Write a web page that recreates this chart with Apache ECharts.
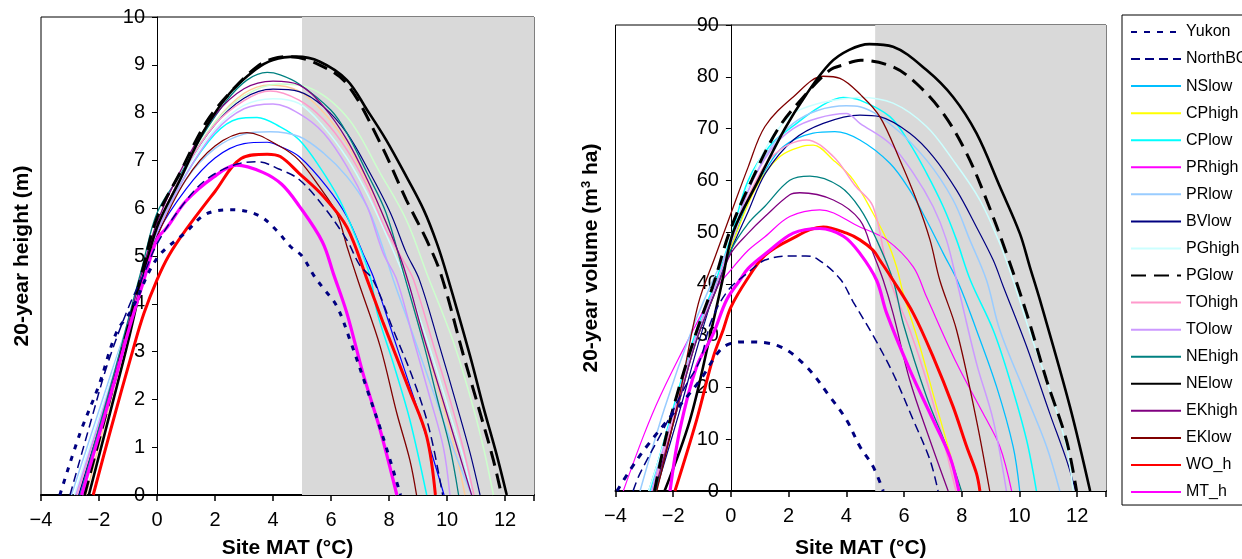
<!DOCTYPE html>
<html>
<head>
<meta charset="utf-8">
<script src="https://cdn.jsdelivr.net/npm/echarts@6/dist/echarts.min.js"></script>
<style>
html,body{margin:0;padding:0;background:#fff;}
#c{width:1242px;height:559px;}
</style>
</head>
<body>
<div id="c"></div>
<script>
// ---------------- DATA ----------------
const seriesNames = ['Yukon','NorthBC','NSlow','CPhigh','CPlow','PRhigh','PRlow','BVlow','PGhigh','PGlow','TOhigh','TOlow','NEhigh','NElow','EKhigh','EKlow','WO_h','MT_h'];
const xTicks = [-4,-2,0,2,4,6,8,10,12];
const heightTicks = [0,1,2,3,4,5,6,7,8,9,10];
const volumeTicks = [0,10,20,30,40,50,60,70,80,90];
const shadeFrom = 5;   // MAT above which the region is shaded
const shadeTo = 13;

// 20-year height (m) vs site MAT (°C)  [MAT, height]
const h_Yukon   = [[-3.35,0],[-2.65,1.3],[-2,2.3],[-1.4,3.4],[-0.9,3.85],[0,4.95],[1,5.5],[1.7,5.88],[2.6,5.97],[3.5,5.85],[4.1,5.55],[4.6,5.2],[5.0,5.0],[5.4,4.6],[5.7,4.35],[6.2,3.95],[6.65,3.25],[7.25,2.2],[7.8,1.2],[8.4,0]];
const h_NorthBC = [[-3.0,0],[-2.3,1.5],[-1.7,2.75],[-1,3.9],[-0.4,4.7],[0,5.25],[0.8,6.0],[1.7,6.6],[2.8,6.93],[3.5,6.97],[4.2,6.82],[4.9,6.6],[5.75,6.03],[6.55,5.33],[7.0,4.8],[7.45,4.5],[8.15,3.45],[8.85,2.4],[9.4,1.35],[9.85,0]];
const h_NSlow   = [[-2.7,0],[-1.5,2.4],[-1,3.4],[-0.5,4.5],[0,5.45],[1,6.4],[2,7.05],[3,7.35],[3.8,7.38],[4.25,7.29],[4.9,7.08],[5.85,6.45],[6.55,5.82],[7.1,5.06],[7.5,4.5],[8.27,3.1],[8.84,2.06],[9.4,1.01],[9.9,0]];
const h_CPhigh  = [[-2.45,0],[-1.5,2.2],[-1,3.4],[-0.5,4.6],[0,5.6],[1,6.85],[2,7.8],[3,8.4],[3.9,8.58],[4.9,8.45],[5.75,8.0],[6.55,7.35],[7.25,6.55],[7.9,5.7],[8.5,4.7],[8.8,4.1],[9.4,2.85],[9.9,1.8],[10.3,0.9],[10.62,0]];
const h_CPlow   = [[-2.65,0],[-1.5,2.4],[-1,3.5],[-0.5,4.5],[0,5.5],[1,6.7],[2,7.55],[2.8,7.87],[3.45,7.9],[4.25,7.7],[4.9,7.43],[5.6,6.87],[6.3,6.17],[6.9,5.33],[7.35,4.57],[7.6,3.8],[8.15,2.75],[8.72,1.57],[9.3,0]];
const h_PRhigh  = [[-2.55,0],[-1.5,2.3],[-1,3.45],[-0.5,4.6],[0,5.6],[1,6.85],[2,7.8],[3,8.35],[4.2,8.6],[5.15,8.54],[6.55,7.91],[7.7,6.73],[8.6,5.75],[9.3,4.64],[10.2,3.24],[10.8,2.06],[11.25,1.01],[11.6,0]];
const h_PRlow   = [[-2.95,0],[-1.5,2.7],[-1,3.6],[-0.5,4.6],[0,5.5],[1,6.6],[2,7.25],[3,7.55],[3.9,7.6],[4.9,7.5],[5.75,7.15],[6.55,6.66],[7.25,6.03],[7.7,5.33],[8.15,4.5],[8.8,3.4],[9.5,2.2],[10.2,1.0],[10.85,0]];
const h_BVlow   = [[-2.7,0],[-1.5,2.45],[-1,3.55],[-0.5,4.65],[0,5.6],[1,6.85],[2,7.75],[3,8.3],[4,8.49],[4.9,8.44],[5.75,8.12],[6.55,7.57],[7.35,6.73],[8.05,5.9],[8.6,5.06],[9.05,4.5],[9.75,3.1],[10.35,1.85],[10.8,0.87],[11.14,0]];
const h_PGhigh  = [[-2.85,0],[-1.5,2.6],[-1,3.6],[-0.5,4.65],[0,5.55],[1,6.8],[2,7.65],[3,8.15],[4,8.29],[4.9,8.19],[5.75,7.7],[6.55,7.05],[7.25,6.3],[7.9,5.45],[8.5,4.6],[9.0,3.8],[9.6,2.7],[10.2,1.5],[10.6,0.7],[10.85,0]];
const h_PGlow   = [[-2.5,0],[-1.5,2.3],[-1,3.5],[-0.5,4.7],[0,5.8],[0.8,6.75],[1.7,7.8],[2.6,8.47],[3.45,8.96],[4.0,9.13],[4.6,9.17],[5.6,9.0],[6.55,8.6],[7.7,7.36],[8.6,6.17],[9.3,5.33],[9.8,4.6],[10.55,2.96],[11.15,1.7],[11.6,0.73],[11.88,0]];
const h_TOhigh  = [[-2.75,0],[-1.5,2.5],[-1,3.6],[-0.5,4.65],[0,5.6],[1,6.85],[2,7.75],[3,8.25],[3.9,8.45],[4.9,8.26],[5.75,7.85],[6.55,7.22],[7.25,6.45],[7.9,5.54],[8.5,4.9],[8.85,4.5],[9.55,3.1],[10.1,2.0],[10.55,1.0],[10.93,0]];
const h_TOlow   = [[-2.8,0],[-1.5,2.5],[-1,3.55],[-0.5,4.6],[0,5.5],[1,6.7],[2,7.6],[3,8.08],[4,8.18],[4.9,7.98],[5.75,7.57],[6.55,6.87],[7.25,6.03],[7.8,5.06],[8.27,4.5],[8.85,3.24],[9.4,2.06],[9.87,1.01],[10.1,0]];
const h_NEhigh  = [[-2.65,0],[-1.5,2.5],[-1,3.65],[-0.5,4.8],[0,5.9],[0.8,6.7],[1.5,7.45],[2.4,8.25],[3.1,8.68],[3.8,8.84],[4.25,8.79],[4.9,8.6],[6.0,8.05],[6.55,7.57],[7.25,6.73],[7.9,5.9],[8.5,4.65],[9.2,3.15],[9.65,2.05],[10.1,1.0],[10.4,0]];
const h_NElow   = [[-2.35,0],[-1.5,2.0],[-1,3.2],[-0.5,4.5],[0,5.6],[0.8,6.6],[1.6,7.6],[2.5,8.4],[3.4,8.9],[4.0,9.1],[4.8,9.17],[5.6,9.07],[6.55,8.68],[7.25,8.05],[7.9,7.43],[8.6,6.66],[9.2,5.96],[9.65,5.27],[10.0,4.6],[10.8,2.9],[11.25,1.85],[11.7,0.87],[12.06,0]];
const h_EKhigh  = [[-2.6,0],[-1.5,2.4],[-1,3.55],[-0.5,4.7],[0,5.7],[1,7.0],[2,7.95],[3,8.5],[4,8.66],[4.9,8.58],[5.75,8.12],[6.55,7.43],[7.25,6.6],[7.9,5.7],[8.5,4.78],[9.2,3.3],[9.8,2.1],[10.4,0.9],[10.85,0]];
const h_EKlow   = [[-2.6,0],[-1.5,2.35],[-1,3.45],[-0.5,4.5],[0,5.4],[1,6.6],[2,7.3],[3.1,7.58],[4.25,7.29],[4.9,7.0],[5.6,6.45],[6.2,5.89],[6.55,5.2],[6.95,4.45],[7.7,3.1],[8.27,1.71],[8.72,0.73],[8.95,0]];
const h_WO_h    = [[-2.2,0],[-1.6,1.36],[-0.8,3.1],[-0.45,3.8],[0,4.5],[0.4,5.0],[1,5.55],[2,6.35],[2.9,7.04],[3.8,7.13],[4.25,7.08],[4.9,6.73],[5.75,6.24],[6.55,5.6],[7.25,4.5],[7.8,3.6],[8.7,2.2],[9.3,1.22],[9.6,0]];
const h_MT_h    = [[-2.6,0],[-1.5,2.3],[-1,3.4],[-0.5,4.4],[0,5.35],[0.35,5.6],[1,6.15],[1.95,6.65],[2.75,6.9],[3.65,6.75],[4.3,6.5],[4.9,6.05],[5.7,5.3],[6.1,4.6],[6.55,3.8],[7.1,2.55],[7.7,1.35],[8.27,0]];

// 20-year volume (m3 ha) vs site MAT (°C)  [MAT, volume]
const v_Yukon   = [[-3.95,0],[-3.5,4],[-2.92,8.6],[-2,15],[-1.07,21.4],[-0.38,27.2],[0,28.5],[0.54,28.8],[1.7,27.9],[2.62,24],[3.43,18.2],[4.01,13.7],[4.47,8.6],[4.93,4.7],[5.28,0]];
const v_NorthBC = [[-3.39,0],[-3.15,3.4],[-2.35,11.8],[-1.6,20],[-1.07,25.3],[-0.67,33],[-0.09,38.8],[0.6,42.2],[1.18,44.6],[2.04,45.4],[2.6,45.4],[3.0,44.8],[3.78,41],[4.24,36.5],[4.93,30],[5.62,22.7],[6.32,13.7],[6.9,6],[7.18,0]];
const v_NSlow   = [[-2.85,0],[-2.0,15],[-1.2,30],[-0.5,40],[0,47],[0.6,56],[1.2,62],[1.81,66.5],[2.85,69.1],[3.6,69.4],[4.47,67.8],[5.51,63.3],[6.2,58.1],[6.78,52.3],[7.36,45.9],[7.9,40],[8.51,31.1],[9.21,20.1],[9.78,8.6],[10.01,0]];
const v_CPhigh  = [[-2.6,0],[-1.9,15],[-1.2,29],[-0.5,39],[0,47],[0.89,58.8],[1.7,64.6],[2.5,66.6],[2.85,66.8],[3.55,63.9],[4.24,60.1],[4.93,53.6],[5.4,48.5],[5.74,43.3],[5.97,38.2],[6.55,27.9],[7.13,16.3],[7.59,7.3],[7.94,0]];
const v_CPlow   = [[-2.8,0],[-2.0,16],[-1.2,31],[-0.5,41],[0,49],[0.6,60],[1.4,67],[2.16,70.5],[3.08,74.2],[3.89,76],[4.47,75.5],[5.51,72.3],[6.2,67.1],[6.78,61.4],[7.36,54.9],[7.82,48.5],[8.3,40.7],[9.09,31.1],[9.67,21.4],[10.25,9.8],[10.59,0]];
const v_PRhigh  = [[-3.73,0],[-3.04,10.5],[-2.46,18.2],[-1.5,29],[-0.55,38.8],[0,42.7],[0.6,46.5],[1.18,49.1],[2.04,53],[3.08,54.3],[4.47,51],[5.4,48.5],[6.32,43.3],[6.78,37.5],[7.82,24.7],[8.74,15],[9.32,8.6],[9.73,0]];
const v_PRlow   = [[-3.15,0],[-2.3,16],[-1.36,31],[-0.6,41],[0,48],[0.6,58],[1.4,66.5],[2.16,71],[3.0,73.5],[4.0,74.4],[4.47,74.2],[5.62,70.4],[6.78,63.9],[7.7,56.2],[8.28,48.5],[8.86,40.7],[9.32,31.1],[10.25,18.2],[10.94,8.6],[11.4,0]];
const v_BVlow   = [[-2.6,0],[-1.8,15],[-1.1,29],[-0.55,38.8],[0,46.5],[0.6,54],[1.2,61.4],[2.16,67.8],[3.2,71],[4.47,72.6],[5.16,72.3],[6.2,69.1],[7.01,64.6],[7.82,58.1],[8.51,51],[9.09,44.6],[9.44,39.5],[10.25,27.9],[11.05,15],[11.63,6],[11.95,0]];
const v_PGhigh  = [[-2.85,0],[-2.0,15],[-1.2,30],[-0.5,40],[0,48],[0.6,59],[1.4,68],[2.16,72.9],[3.0,74.8],[4.0,75.8],[4.47,76],[5.62,74.9],[6.78,70.4],[7.7,63.9],[8.63,56.2],[9.32,47.8],[9.78,40.7],[10.4,30],[10.94,21.4],[11.63,8.6],[11.86,0]];
const v_PGlow   = [[-2.65,0],[-2.11,13.7],[-1.25,29.8],[-0.6,40],[-0.05,50],[0.72,60],[1.64,70],[2.5,76],[3.43,81.3],[3.9,82.3],[4.5,83.2],[5.62,81.9],[6.43,78.7],[7.36,72.9],[8.17,65.2],[8.86,56.2],[9.55,45.9],[10.25,34.3],[10.94,21.4],[11.63,9.8],[11.98,0]];
const v_TOhigh  = [[-2.7,0],[-1.9,16],[-1.2,30],[-0.5,40],[0,48],[0.7,58],[1.5,65],[2.62,67.8],[3.55,64.6],[4.3,59],[4.93,54.9],[5.5,41],[6.2,31.1],[6.78,21.4],[7.36,9.8],[7.8,0]];
const v_TOlow   = [[-2.75,0],[-2.0,15],[-1.2,30],[-0.5,40],[0,48],[0.6,58],[1.4,66],[2.16,70],[3.0,72],[4.0,72.9],[4.47,71],[5.51,67.1],[6.32,61.4],[7.01,54.9],[7.47,48.5],[7.82,40.7],[8.51,24.7],[9.09,13.7],[9.55,0]];
const v_NEhigh  = [[-2.6,0],[-1.9,15],[-1.2,29],[-0.5,39],[0,46.5],[0.6,51.7],[1.18,55],[2.04,60],[2.74,60.8],[3.78,58.8],[4.47,54.6],[5.05,48.5],[5.62,40.7],[5.97,32.4],[6.78,18.2],[7.47,8.6],[7.99,0]];
const v_NElow   = [[-2.3,0],[-1.42,13.7],[-0.73,29.8],[-0.32,40],[0.08,50],[0.95,60],[1.87,70],[2.6,76.5],[3.43,82.6],[4.1,85.2],[4.8,86.3],[5.62,85.8],[6.78,81.3],[7.7,76.1],[8.51,69.1],[9.32,58.8],[10.01,49.8],[10.36,43.3],[10.71,36.9],[11.75,16.3],[12.45,0]];
const v_EKhigh  = [[-2.65,0],[-1.9,15],[-1.2,29],[-0.5,39],[0,45.9],[0.6,49.8],[1.18,53],[2.04,57.2],[2.39,57.6],[3.55,56.2],[4.47,52.3],[4.93,45.9],[5.28,40.7],[5.62,34.3],[6.2,21.4],[6.9,9.8],[7.53,0]];
const v_EKlow   = [[-2.57,0],[-1.8,18],[-1.13,36.2],[-0.55,45.2],[0,53.6],[0.6,62.6],[1.18,70.4],[2.16,76.1],[3.2,80.1],[3.78,79.7],[4.5,76.5],[5.16,72.3],[5.86,63.9],[6.43,56.2],[6.9,48.5],[7.24,40.7],[7.82,31.1],[8.51,13.7],[8.97,0]];
const v_WO_h    = [[-1.94,0],[-1.19,13.7],[-0.61,25.9],[-0.27,31.1],[0,35.5],[0.54,40.7],[1.18,45.5],[2.04,48.5],[3.2,51],[4.01,49.8],[4.47,48.5],[4.93,46.5],[5.16,44.6],[5.62,40.7],[6.32,34.3],[7.01,25.9],[7.7,16.3],[8.17,8.6],[8.51,3.4],[8.63,0]];
const v_MT_h    = [[-2.11,0],[-1.77,11.8],[-1.19,24],[-0.61,30.4],[-0.15,36.9],[0.31,40.7],[0.6,43],[1.24,46],[2.16,49.8],[3.08,50.7],[3.9,49.2],[4.47,45.9],[5.05,40.7],[5.4,34.3],[6.2,23.4],[7.01,13.7],[7.59,6.6],[7.9,0]];

const heightData = {Yukon:h_Yukon,NorthBC:h_NorthBC,NSlow:h_NSlow,CPhigh:h_CPhigh,CPlow:h_CPlow,PRhigh:h_PRhigh,PRlow:h_PRlow,BVlow:h_BVlow,PGhigh:h_PGhigh,PGlow:h_PGlow,TOhigh:h_TOhigh,TOlow:h_TOlow,NEhigh:h_NEhigh,NElow:h_NElow,EKhigh:h_EKhigh,EKlow:h_EKlow,WO_h:h_WO_h,MT_h:h_MT_h};
const volumeData = {Yukon:v_Yukon,NorthBC:v_NorthBC,NSlow:v_NSlow,CPhigh:v_CPhigh,CPlow:v_CPlow,PRhigh:v_PRhigh,PRlow:v_PRlow,BVlow:v_BVlow,PGhigh:v_PGhigh,PGlow:v_PGlow,TOhigh:v_TOhigh,TOlow:v_TOlow,NEhigh:v_NEhigh,NElow:v_NElow,EKhigh:v_EKhigh,EKlow:v_EKlow,WO_h:v_WO_h,MT_h:v_MT_h};

// ---------------- STYLES ----------------
const styleR = {
  Yukon:{c:'#000080',w:3,t:[6,7]}, NorthBC:{c:'#000080',w:1.5,t:[9,5]},
  NSlow:{c:'#00BFFF',w:1.3}, CPhigh:{c:'#FFFF00',w:1.3}, CPlow:{c:'#00FFFF',w:1.5},
  PRhigh:{c:'#FF00FF',w:1.2}, PRlow:{c:'#99CCFF',w:1.5}, BVlow:{c:'#000080',w:1.2},
  PGhigh:{c:'#CCFFFF',w:1.5}, PGlow:{c:'#000000',w:3,t:[15,8]},
  TOhigh:{c:'#FF99CC',w:1.5}, TOlow:{c:'#CC99FF',w:1.5}, NEhigh:{c:'#008080',w:1.3},
  NElow:{c:'#000000',w:2.6}, EKhigh:{c:'#800080',w:1.3}, EKlow:{c:'#800000',w:1.3},
  WO_h:{c:'#FF0000',w:3}, MT_h:{c:'#FF00FF',w:3.2}
};
const styleL = Object.assign({}, styleR, {
  NSlow:{c:'#0000FF',w:1.2}, CPhigh:{c:'#FFCC99',w:1.5}, PRhigh:{c:'#CCFFCC',w:1.5},
  Yukon:{c:'#000080',w:3,t:[5,7]}
});
const thickOrder = ['PGlow','NElow','WO_h','MT_h','Yukon','NorthBC'];
const drawOrder = seriesNames.filter(n=>thickOrder.indexOf(n)<0).concat(thickOrder);

function mk(name, data, st, idx){
  return {
    type:'line', name:name, data:data, xAxisIndex:idx, yAxisIndex:idx,
    symbol:'none', smooth:0.35, clip:true, z:3,
    lineStyle:{color:st.c, width:st.w, type:st.t||'solid', cap:'butt'},
    itemStyle:{color:st.c}, emphasis:{disabled:true}
  };
}
const series = [];
// right panel first so the legend takes its colours
drawOrder.forEach(n=>series.push(mk(n, volumeData[n], styleR[n], 1)));
drawOrder.forEach(n=>series.push(mk(n, heightData[n], styleL[n], 0)));
[0,1].forEach(i=>series.push({
  type:'line', name:'shade'+i, data:[], xAxisIndex:i, yAxisIndex:i, z:1, silent:true,
  markArea:{silent:true, itemStyle:{color:'#D9D9D9'}, data:[[{xAxis:shadeFrom},{xAxis:shadeTo}]]}
}));

const FONT = 'Liberation Sans, Arial, sans-serif';
const fmtX = v => (xTicks.indexOf(v) < 0) ? '' : (v < 0 ? '\u2212' + Math.abs(v) : String(v));

// grid geometry
const G = [
  {left:41, top:17, width:493, height:478},
  {left:615.5, top:25, width:490.5, height:466}
];
const XMIN = -4, XMAX = 13;
const zeroOffset = g => -(0 - XMIN) / (XMAX - XMIN) * g.width;   // moves y axis onto MAT = 0

function xAxisCfg(idx, gap){
  return {
    type:'value', gridIndex:idx, min:XMIN, max:XMAX, interval:2,
    name:'Site MAT (\u00B0C)', nameLocation:'middle', nameGap:gap,
    nameTextStyle:{fontFamily:FONT, fontWeight:'bold', fontSize:21, color:'#000'},
    axisLine:{show:true, onZero:false, lineStyle:{color:'#000', width:2}},
    axisTick:{show:true, length:6, lineStyle:{color:'#000', width:1.5}},
    axisLabel:{formatter:fmtX, fontFamily:FONT, fontSize:20, color:'#000', margin:15, showMaxLabel:true},
    splitLine:{show:false}
  };
}
function yAxisCfg(idx, ticks, name, gap, rich){
  return {
    type:'value', gridIndex:idx, min:ticks[0], max:ticks[ticks.length-1], interval:ticks[1]-ticks[0],
    position:'left', offset:zeroOffset(G[idx]),
    name:name, nameLocation:'middle', nameGap:gap, nameRotate:90,
    nameTextStyle:{fontFamily:FONT, fontWeight:'bold', fontSize:21, color:'#000', rich:rich},
    axisLine:{show:true, onZero:false, lineStyle:{color:'#000', width:1}},
    axisTick:{show:true, length:5, lineStyle:{color:'#000'}},
    axisLabel:{fontFamily:FONT, fontSize:20, color:'#000', margin:12},
    splitLine:{show:false}
  };
}

const option = {
  animation:false,
  backgroundColor:'#fff',
  grid:G.map(g=>Object.assign({show:true, borderColor:'#000', borderWidth:1, backgroundColor:'transparent', containLabel:false, outerBoundsMode:'none'}, g)),
  xAxis:[xAxisCfg(0, 43), xAxisCfg(1, 47)],
  yAxis:[
    yAxisCfg(0, heightTicks, '20-year height (m)', 124),
    yAxisCfg(1, volumeTicks, '20-year volume (m{sup|3} ha)', 129,
      {sup:{fontFamily:FONT, fontWeight:'bold', fontSize:13, color:'#000', verticalAlign:'top', padding:[0,0,9,0]}})
  ],
  legend:{
    data:seriesNames, orient:'vertical', left:1122, top:15,
    padding:[9,80,5,8], itemGap:11.06, itemWidth:50, itemHeight:14,
    borderColor:'#000', borderWidth:1, backgroundColor:'#fff',
    itemStyle:{opacity:0},
    textStyle:{fontFamily:FONT, fontSize:16, color:'#000'},
    selectedMode:false
  },
  series:series
};
const chart = echarts.init(document.getElementById('c'), null, {renderer:'canvas'});
chart.setOption(option);
</script>
</body>
</html>
